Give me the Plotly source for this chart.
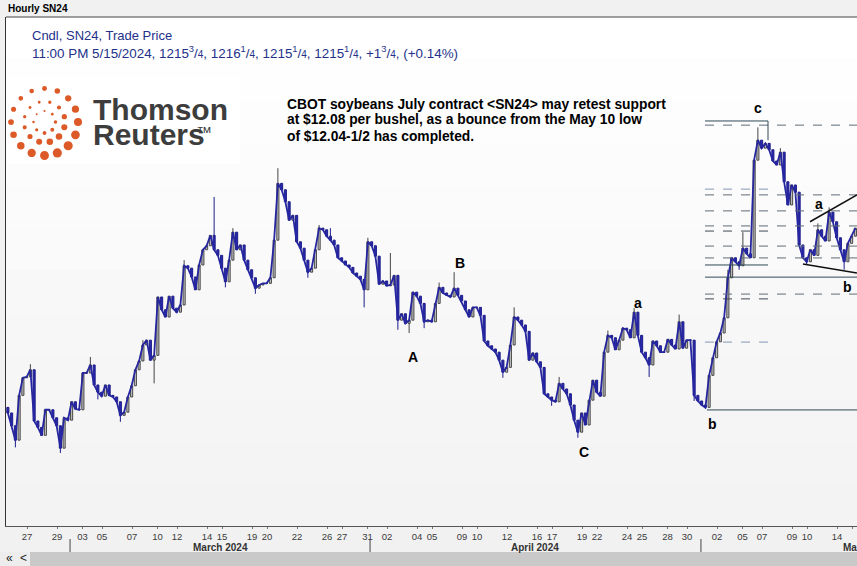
import math
import plotly.graph_objects as go

# ---------------- data ----------------
# hourly SN24 closes, sampled 4 bars per trading session, Feb 26 -> May 15 2024 (US cents/bu)
close = [
    1158.25, 1154.25, 1149.75, 1163.75, 1169.25, 1169.5, 1171.75, 1155.75, 1153.75, 1151.25,
    1159.25, 1159.25, 1156.75, 1154.25, 1147.25, 1156.75, 1156.0, 1161.75, 1159.5, 1159.25,
    1170.75, 1170.75, 1173.25, 1167.0, 1164.75, 1163.5, 1167.0, 1163.75, 1163.25, 1161.75,
    1157.5, 1158.5, 1163.25, 1166.75, 1171.75, 1174.5, 1179.5, 1181.0, 1174.75, 1176.25,
    1194.5, 1190.5, 1188.25, 1194.75, 1191.0, 1189.75, 1192.0, 1204.25, 1203.5, 1200.75,
    1196.75, 1204.5, 1209.25, 1210.5, 1213.75, 1209.25, 1207.5, 1203.5, 1199.25, 1206.0,
    1214.75, 1209.25, 1210.75, 1206.0, 1203.0, 1200.5, 1197.25, 1198.25, 1198.75, 1198.75,
    1200.5, 1212.25, 1230.0, 1228.0, 1224.25, 1218.5, 1220.0, 1211.75, 1209.75, 1206.0,
    1202.25, 1203.5, 1209.25, 1216.0, 1215.5, 1213.5, 1212.25, 1210.75, 1206.75, 1205.75,
    1204.5, 1203.75, 1202.0, 1201.0, 1200.0, 1196.75, 1211.75, 1210.5, 1207.25, 1198.5,
    1199.5, 1198.0, 1198.25, 1201.25, 1187.25, 1189.25, 1186.25, 1187.25, 1196.0, 1194.75,
    1192.5, 1186.75, 1187.25, 1186.75, 1192.5, 1197.5, 1195.75, 1195.0, 1194.5, 1197.25,
    1195.0, 1193.25, 1190.5, 1188.25, 1191.25, 1191.25, 1188.75, 1180.75, 1179.25, 1178.25,
    1177.25, 1174.75, 1171.0, 1172.5, 1179.5, 1188.25, 1187.25, 1185.75, 1183.75, 1174.75,
    1177.0, 1174.25, 1172.5, 1164.25, 1163.25, 1162.25, 1161.75, 1167.5, 1165.75, 1164.25,
    1160.75, 1156.0, 1152.25, 1158.25, 1154.5, 1162.25, 1168.5, 1164.75, 1163.5, 1177.25,
    1182.5, 1181.75, 1178.0, 1181.0, 1184.75, 1184.25, 1181.75, 1189.75, 1182.5, 1177.25,
    1175.5, 1173.25, 1180.75, 1179.25, 1177.25, 1177.25, 1181.25, 1179.5, 1178.25, 1186.75,
    1178.5, 1181.0, 1181.0, 1163.75, 1162.0, 1160.75, 1160.0, 1170.0, 1175.5, 1180.5,
    1183.25, 1188.0, 1200.5, 1206.75, 1205.5, 1204.25, 1209.75, 1208.0, 1206.75, 1237.25,
    1243.5, 1241.0, 1242.5, 1240.5, 1237.0, 1235.75, 1239.75, 1230.5, 1223.25, 1229.5,
    1227.25, 1210.75, 1206.75, 1205.5, 1209.25, 1207.5, 1215.5, 1213.5, 1212.0, 1221.0,
    1218.0, 1213.0, 1209.25, 1205.5, 1211.25, 1213.5, 1216.0,
]
first_open = 1160.0
# wick extremes (bar index -> price)
wick_high = {6: 1173.5, 22: 1175.75, 36: 1181.0, 47: 1206.0, 55: 1225.75, 60: 1216.0,
             72: 1234.75, 83: 1217.0, 86: 1216.0, 96: 1213.0, 102: 1208.25, 115: 1199.0,
             119: 1202.25, 135: 1191.25, 147: 1169.5, 160: 1184.0, 167: 1191.0, 179: 1189.0,
             192: 1203.0, 196: 1214.75, 200: 1247.5, 206: 1241.0, 216: 1217.5, 219: 1222.5}
wick_low = {2: 1147.5, 14: 1145.75, 24: 1162.5, 30: 1155.5, 39: 1167.5, 58: 1197.5,
            66: 1195.5, 80: 1200.5, 95: 1191.25, 104: 1184.25, 107: 1183.25, 111: 1184.75,
            132: 1169.25, 145: 1160.5, 152: 1150.5, 171: 1169.5, 183: 1162.0, 186: 1159.5,
            195: 1203.0, 213: 1204.5, 223: 1203.0}
BARS_PER_SESSION = 4

# date tick labels (session index positions) and month labels
tick_labels = ["27", "29", "03", "05", "07", "10", "12", "14", "15", "19", "20", "22", "26", "27",
               "31", "02", "04", "05", "09", "10", "12", "16", "17", "19", "22", "24", "25", "28",
               "30", "02", "05", "07", "09", "10", "14", "15"]
tick_pos = [1.4, 3.4, 5.1, 6.4, 8.4, 10.1, 11.4, 13.4, 14.4, 16.4, 17.4, 19.4, 21.4, 22.4,
            24.1, 25.4, 27.4, 28.4, 30.4, 31.4, 33.4, 35.4, 36.4, 38.4, 39.4, 41.4, 42.4, 44.1,
            45.4, 47.4, 49.1, 50.4, 52.4, 53.4, 55.4, 56.4]
month_labels = ["March 2024", "April 2024", "May 2024"]
month_label_pos = [14.27, 35.27, 57.3]
month_starts = [4.27, 24.27, 46.33]

# Fibonacci / support levels (cents)
fib_long_dash = [1248.2, 1226.4, 1221.4, 1216.7, 1210.4, 1206.7, 1195.4]
fib_long_solid = [1200.7]
fib_short_dash = [1215.1, 1193.9]
fib_short_light = [1228.2, 1180.4]
fib_short_solid = [1204.5, 1249.5]
c_bracket = (1249.5, 1243.5)
b_low_level = 1159.2
fib_start, fib_short_end = 46.6, 50.8
trend_upper = [(53.6, 1218.0), (56.73, 1226.4)]
trend_lower = [(53.13, 1204.8), (56.73, 1202.0)]

# Elliott-wave labels: (text, session position, price)
wave_labels = [("c", 50.13, 1253.6), ("a", 54.2, 1223.6), ("b", 56.07, 1197.6),
               ("b", 47.13, 1154.8), ("a", 42.13, 1192.6), ("A", 27.13, 1175.7),
               ("B", 30.27, 1205.1), ("C", 38.53, 1146.0)]

last_bar = [1215.75, 1216.25, 1215.25, 1215.25]
last_change, last_pct = 1.75, 0.14

# ---------------- layout geometry ----------------
W, H = 857, 566
ML, MR, MT, MB = 6, 0, 17, 40
PW, PH = W - ML - MR, H - MT - MB
XMAX = PW / 15.0
YMIN, YMAX = 1122.93, 1281.99


def pxx(x):
    return (x - ML) / PW


def pxy(y):
    return (H - MB - y) / PH


# ---------------- candles ----------------
n = len(close)
xs = [(i + 0.5) / BARS_PER_SESSION for i in range(n)]
opens = [first_open] + close[:-1]
highs = [max(o, c) for o, c in zip(opens, close)]
lows = [min(o, c) for o, c in zip(opens, close)]
for k, v in wick_high.items():
    highs[k] = max(highs[k], v)
for k, v in wick_low.items():
    lows[k] = min(lows[k], v)

fig = go.Figure()
fig.add_trace(go.Scatter(x=xs, y=close, mode="lines", line=dict(color="#2626a0", width=1.8),
                         hoverinfo="skip", showlegend=False))
fig.add_trace(go.Candlestick(
    x=xs, open=opens, high=highs, low=lows, close=close,
    increasing=dict(line=dict(color="#454545", width=1), fillcolor="#c4c4c4"),
    decreasing=dict(line=dict(color="#1c1c8a", width=1), fillcolor="#2a2ab0"),
    whiskerwidth=0, hoverinfo="skip", showlegend=False,
))

shapes = []
# background gradient of plot area
nb = 12
for b in range(nb):
    g = int(round(255 - (255 - 243) * b / (nb - 1)))
    shapes.append(dict(type="rect", xref="paper", yref="paper", x0=0, x1=1,
                       y0=1 - (b + 1) / nb, y1=1 - b / nb, layer="below",
                       line=dict(width=0), fillcolor=f"rgb({g},{g},{g})"))

# fib lines
for lv in fib_long_dash:
    shapes.append(dict(type="line", xref="x", yref="y", x0=fib_start, x1=XMAX + 1, y0=lv, y1=lv,
                       line=dict(color="#5f6b77", width=1, dash="dash")))
for lv in fib_long_solid:
    shapes.append(dict(type="line", xref="x", yref="y", x0=fib_start, x1=XMAX + 1, y0=lv, y1=lv,
                       line=dict(color="#2f4a55", width=1)))
for lv in fib_short_dash:
    shapes.append(dict(type="line", xref="x", yref="y", x0=fib_start, x1=fib_short_end, y0=lv, y1=lv,
                       line=dict(color="#3d4955", width=1, dash="dash")))
for lv in fib_short_light:
    shapes.append(dict(type="line", xref="x", yref="y", x0=fib_start, x1=fib_short_end, y0=lv, y1=lv,
                       line=dict(color="#8796b6", width=1, dash="dash")))
for lv in fib_short_solid:
    shapes.append(dict(type="line", xref="x", yref="y", x0=fib_start, x1=fib_short_end, y0=lv, y1=lv,
                       line=dict(color="#2f4a55", width=1)))
shapes.append(dict(type="line", xref="x", yref="y", x0=fib_short_end, x1=fib_short_end,
                   y0=c_bracket[0], y1=c_bracket[1], line=dict(color="#2f4a55", width=1)))
shapes.append(dict(type="line", xref="x", yref="y", x0=46.73, x1=XMAX + 1, y0=b_low_level,
                   y1=b_low_level, line=dict(color="#2f4a55", width=1)))
for tl in (trend_upper, trend_lower):
    shapes.append(dict(type="line", xref="x", yref="y", x0=tl[0][0], y0=tl[0][1],
                       x1=tl[1][0], y1=tl[1][1], line=dict(color="#111111", width=1.5)))

# frame: top line of chart panel
shapes.append(dict(type="line", xref="paper", yref="paper", x0=0, x1=1, y0=1, y1=1,
                   line=dict(color="#444444", width=1)))
# month separators
for m in month_starts:
    shapes.append(dict(type="line", xref="paper", yref="paper", x0=m / XMAX, x1=m / XMAX,
                       y0=pxy(539), y1=pxy(552), line=dict(color="#444444", width=1)))
# bottom scrollbar
shapes.append(dict(type="rect", xref="paper", yref="paper", x0=pxx(0), x1=pxx(30),
                   y0=pxy(566), y1=pxy(552), line=dict(width=0), fillcolor="#ededed"))
shapes.append(dict(type="rect", xref="paper", yref="paper", x0=pxx(30), x1=pxx(857),
                   y0=pxy(566), y1=pxy(552), line=dict(width=0), fillcolor="#c9c9c9"))
# white backdrop of logo
shapes.append(dict(type="rect", xref="paper", yref="paper", x0=pxx(7), x1=pxx(240),
                   y0=pxy(164), y1=pxy(78), line=dict(width=0), fillcolor="white", layer="below"))

# Thomson Reuters dot logo
cx, cy = 44.5, 122.0
rings = [(33.5, 16, 2.3, 2.3, 0.0), (20.5, 12, 1.4, 1.9, 15.0), (11.0, 8, 1.0, 1.0, 0.0)]
for R, cnt, base, amp, off in rings:
    for j in range(cnt):
        th = math.radians(off + j * 360.0 / cnt)
        f = (1 + math.cos(th - math.radians(60))) / 2
        r = base + amp * f
        dx, dy = cx + R * math.cos(th), cy + R * math.sin(th)
        shapes.append(dict(type="circle", xref="paper", yref="paper", xsizemode="pixel",
                           ysizemode="pixel", xanchor=pxx(dx), yanchor=pxy(dy),
                           x0=-r, x1=r, y0=-r, y1=r, line=dict(width=0), fillcolor="#dc5a28"))

# ---------------- texts ----------------
FONT = "Liberation Sans, Arial, sans-serif"
ann = []


def add_text(text, x, y, size, color="#000000", bold=False, xanchor="left", xref="paper",
             yref="paper"):
    ann.append(dict(text=f"<b>{text}</b>" if bold else text, x=x, y=y, xref=xref, yref=yref,
                    xanchor=xanchor, yanchor="middle", showarrow=False,
                    font=dict(family=FONT, size=size, color=color)))


def qfmt(v):
    whole = int(math.floor(v))
    q = int(round((v - whole) * 4))
    if q == 0:
        return f"{whole}"
    num, den = {1: (1, 4), 2: (1, 2), 3: (3, 4)}[q]
    return f"{whole}<sup>{num}</sup>/<span style='font-size:10px'>{den}</span>"


add_text("Hourly SN24", pxx(6), pxy(9), 10, "#000000", bold=True)
add_text("Cndl, SN24, Trade Price", pxx(30), pxy(35), 13, "#23318a")
line2 = "11:00 PM 5/15/2024, " + ", ".join(qfmt(v) for v in last_bar) + \
        f", +{qfmt(last_change)}, (+{last_pct:.2f}%)"
add_text(line2, pxx(30), pxy(52), 13.4, "#23318a")

add_text("Thomson", pxx(91), pxy(109), 30, "#3d3d3d", bold=True)
add_text("Reuters", pxx(91), pxy(134), 30, "#3d3d3d", bold=True)
add_text("™", pxx(194), pxy(132), 16, "#3d3d3d")

note = ["CBOT soybeans July contract &lt;SN24&gt; may retest support",
        "at $12.08 per bushel, as a bounce from the May 10 low",
        "of $12.04-1/2 has completed."]
for k, t in enumerate(note):
    add_text(t, pxx(285), pxy(104 + 16 * k), 13.8, "#000000", bold=True)

for t, xv, yv in wave_labels:
    add_text(t, xv, yv, 14, "#000000", bold=True, xanchor="center", xref="x", yref="y")

for t, xv in zip(month_labels, month_label_pos):
    add_text(t, xv / XMAX, pxy(547), 10, "#333333", bold=True, xanchor="center")

add_text("«", pxx(9), pxy(558), 12, "#222222", xanchor="center")
add_text("&lt;", pxx(23), pxy(558), 12, "#222222", xanchor="center")

fig.update_layout(
    width=W, height=H, margin=dict(l=ML, r=MR, t=MT, b=MB, pad=0),
    paper_bgcolor="#f1f1f1", plot_bgcolor="#f7f7f7", showlegend=False,
    boxgap=0.45, boxgroupgap=0.0,
    shapes=shapes, annotations=ann,
    xaxis=dict(range=[0, XMAX], tickmode="array", tickvals=tick_pos, ticktext=tick_labels,
               ticks="outside", ticklen=2, tickcolor="#777777", showgrid=False, zeroline=False,
               showline=True, linecolor="#555555", linewidth=1,
               tickfont=dict(family=FONT, size=9.5, color="#3a3a3a"),
               rangeslider=dict(visible=False), fixedrange=True),
    yaxis=dict(range=[YMIN, YMAX], showticklabels=False, showgrid=False, zeroline=False,
               showline=True, linecolor="#333333", linewidth=1, ticks="", fixedrange=True),
)

fig.write_html("out.html")
